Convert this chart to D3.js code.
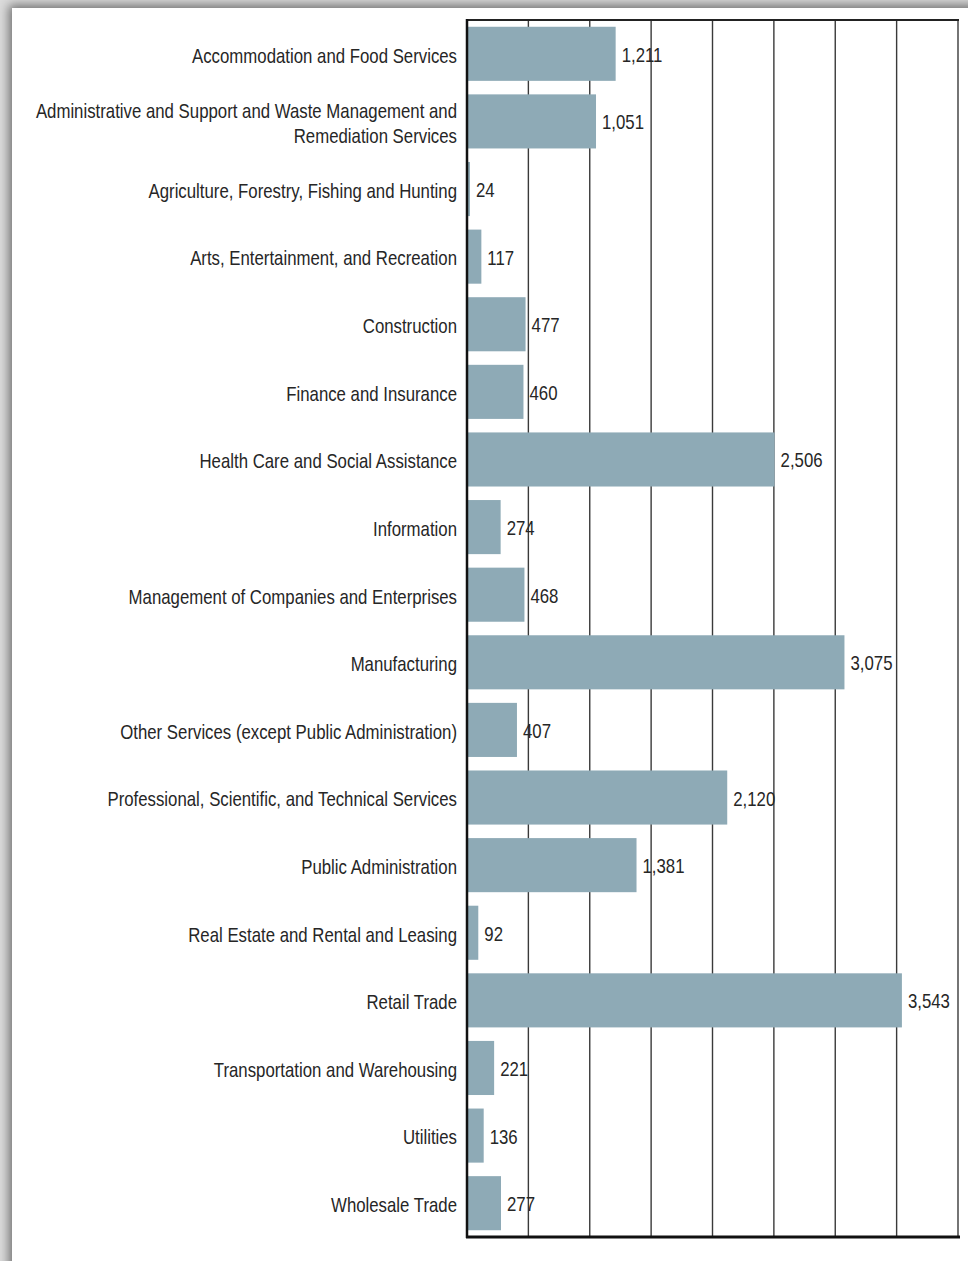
<!DOCTYPE html>
<html>
<head>
<meta charset="utf-8">
<script src="https://cdn.jsdelivr.net/npm/d3@7"></script>
<style>
  html, body { margin: 0; padding: 0; }
  body { width: 968px; height: 1261px; overflow: hidden; background: #dcdcdc; position: relative; }
  #panel {
    position: absolute; left: 12px; top: 8px; width: 980px; height: 1280px;
    background: #fff; box-shadow: 0 0 10px 3px rgba(0,0,0,0.5);
  }
  svg { position: absolute; left: 0; top: 0; }
  .lbl { font-family: 'Liberation Sans', Arial, sans-serif; font-size: 20px; fill: #262626; }
</style>
</head>
<body>
<div id="panel"></div>
<svg id="chart" width="968" height="1261"></svg>
<script>
// Industries (label lines) and employee counts
const categories = [
  ["Accommodation and Food Services"],
  ["Administrative and Support and Waste Management and", "Remediation Services"],
  ["Agriculture, Forestry, Fishing and Hunting"],
  ["Arts, Entertainment, and Recreation"],
  ["Construction"],
  ["Finance and Insurance"],
  ["Health Care and Social Assistance"],
  ["Information"],
  ["Management of Companies and Enterprises"],
  ["Manufacturing"],
  ["Other Services (except Public Administration)"],
  ["Professional, Scientific, and Technical Services"],
  ["Public Administration"],
  ["Real Estate and Rental and Leasing"],
  ["Retail Trade"],
  ["Transportation and Warehousing"],
  ["Utilities"],
  ["Wholesale Trade"]
];
const values = [1211, 1051, 24, 117, 477, 460, 2506, 274, 468, 3075, 407, 2120, 1381, 92, 3543, 221, 136, 277];
const gridTicks = [0, 500, 1000, 1500, 2000, 2500, 3000, 3500, 4000];

const rows = categories.map((lines, i) => ({ key: lines.join(" "), lines, value: values[i] }));

const svg = d3.select("#chart");
const plotLeft = 467, plotRight = 958, plotTop = 20, plotBottom = 1237;
const narrow = 0.84;   // condensed lettering

const x = d3.scaleLinear().domain([0, 4000]).range([plotLeft, plotRight]);
const y = d3.scaleBand().domain(rows.map(d => d.key)).range([plotTop, plotBottom])
  .paddingInner(0.2).paddingOuter(0.1);

// vertical gridlines
svg.append("g").selectAll("line").data(gridTicks.slice(1)).join("line")
  .attr("x1", d => x(d)).attr("x2", d => x(d))
  .attr("y1", plotTop).attr("y2", plotBottom)
  .attr("stroke", "#3a3a3a").attr("stroke-width", 1.4);

// bars
svg.append("g").selectAll("rect").data(rows).join("rect")
  .attr("x", x(0)).attr("y", d => y(d.key))
  .attr("width", d => x(d.value) - x(0))
  .attr("height", y.bandwidth())
  .attr("fill", "#8eaab6");

// frame: top edge, left axis, bottom axis
svg.append("line").attr("x1", plotLeft).attr("x2", plotRight + 1).attr("y1", plotTop).attr("y2", plotTop)
  .attr("stroke", "#222").attr("stroke-width", 2);
svg.append("line").attr("x1", plotLeft).attr("x2", plotLeft).attr("y1", plotTop - 1).attr("y2", plotBottom + 1)
  .attr("stroke", "#111").attr("stroke-width", 2.5);
svg.append("line").attr("x1", plotLeft - 1).attr("x2", plotRight + 2).attr("y1", plotBottom).attr("y2", plotBottom)
  .attr("stroke", "#111").attr("stroke-width", 3);

// category labels
const lineH = 25;
svg.append("g").selectAll("text").data(rows).join("text")
  .attr("class", "lbl")
  .attr("text-anchor", "end")
  .attr("transform", d => `translate(${plotLeft - 10},${y(d.key) + y.bandwidth() / 2}) scale(${narrow},1)`)
  .each(function (d) {
    const n = d.lines.length;
    d3.select(this).selectAll("tspan").data(d.lines).join("tspan")
      .attr("x", 0)
      .attr("y", (l, i) => (i - (n - 1) / 2) * lineH)
      .attr("dy", "0.44em")
      .text(l => l);
  });

// value labels
const fmt = d3.format(",");
svg.append("g").selectAll("text").data(rows).join("text")
  .attr("class", "lbl")
  .attr("transform", d => `translate(${x(d.value) + 6},${y(d.key) + y.bandwidth() / 2}) scale(${narrow},1)`)
  .attr("dy", "0.4em")
  .text(d => fmt(d.value));
</script>
</body>
</html>
